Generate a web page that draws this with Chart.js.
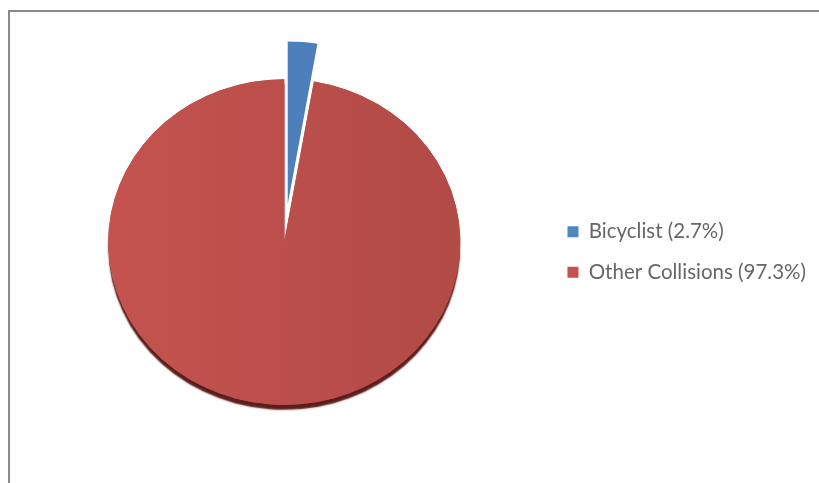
<!DOCTYPE html>
<html>
<head>
<meta charset="utf-8">
<script src="https://cdn.jsdelivr.net/npm/chart.js@4"></script>
<style>
  body { margin: 0; background: #fff; }
  #wrap { position: relative; width: 819px; height: 483px; }
  #frame { position: absolute; left: 8px; top: 10px; right: 0; bottom: 0;
           border-top: 2px solid #8a8a8a; border-left: 2px solid #8a8a8a; }
  canvas { position: absolute; left: 0; top: 0; }
</style>
</head>
<body>
<div id="wrap">
  <div id="frame"></div>
  <canvas id="myChart" width="819" height="483"></canvas>
</div>
<script>
// chart values
const categories = ['Bicyclist (2.7%)', 'Other Collisions (97.3%)'];
const shares = [2.7, 97.3];

// look
const lightColors = ['#5285C2', '#C4534F'];
const darkColors = ['#4A7AB4', '#B24A46'];
const explode = [41, 0];     // px the slice is pulled out
const tilt = 0.925;          // vertical squash of the pie
const pieRadius = 176;

function sliceFill(context) {
  const chart = context.chart;
  const area = chart.chartArea;
  const i = context.dataIndex;
  if (!area || !isFinite(area.left) || !isFinite(area.right)) return lightColors[i];
  const cx = (area.left + area.right) / 2;
  const g = chart.ctx.createLinearGradient(cx - pieRadius, 0, cx + pieRadius, 0);
  g.addColorStop(0, lightColors[i]);
  g.addColorStop(1, darkColors[i]);
  return g;
}

// draws the pie squashed, with the exploded slice and a dark bottom edge
const pieLook = {
  id: 'pieLook',
  beforeDatasetDraw(chart, args) {
    const ctx = chart.ctx;
    const arcs = args.meta.data;
    const cx = arcs[0].x, cy = arcs[0].y;
    ctx.save();
    ctx.translate(cx, cy);
    ctx.scale(1, tilt);
    ctx.translate(-cx, -cy);
    // pass 1: body with its side shadow
    arcs.forEach((arc, i) => {
      if (explode[i]) return;
      ctx.save();
      ctx.shadowColor = '#5b1e1c';
      ctx.shadowOffsetY = 5;
      ctx.shadowBlur = 1.5;
      arc.draw(ctx);
      ctx.restore();
    });
    // pass 2: faces
    arcs.forEach((arc, i) => {
      const mid = (arc.startAngle + arc.endAngle) / 2;
      ctx.save();
      ctx.translate(Math.cos(mid) * explode[i], Math.sin(mid) * explode[i]);
      arc.draw(ctx);
      ctx.restore();
    });
    ctx.restore();
    return false;
  }
};

new Chart('myChart', {
  type: 'pie',
  data: {
    labels: categories,
    datasets: [{
      data: shares,
      backgroundColor: sliceFill,
      borderColor: '#ffffff',
      borderWidth: 0,
      radius: pieRadius
    }]
  },
  options: {
    responsive: false,
    animation: false,
    events: [],
    layout: { padding: { left: 21, right: 3, top: 1, bottom: 0 } },
    plugins: {
      tooltip: { enabled: false },
      legend: {
        position: 'right',
        title: { display: true, text: ' ', font: { size: 1 }, padding: { top: 0, bottom: 19 } },
        labels: {
          color: '#111111',
          font: { family: 'Lato', size: 20.5 },
          boxWidth: 11,
          boxHeight: 11,
          padding: 20,
          generateLabels(chart) {
            return categories.map((text, i) => ({
              text: text,
              fillStyle: lightColors[i],
              strokeStyle: lightColors[i],
              lineWidth: 0,
              index: i
            }));
          }
        }
      }
    }
  },
  plugins: [pieLook]
});
</script>
</body>
</html>
